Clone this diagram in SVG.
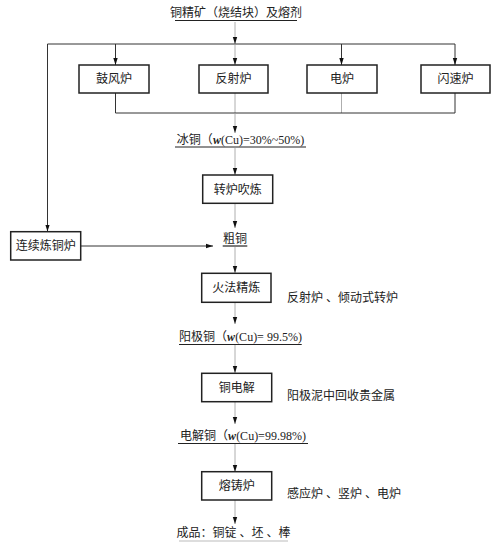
<svg xmlns="http://www.w3.org/2000/svg" width="500" height="543" viewBox="0 0 500 543">
<style>
  text { font-family: "Liberation Serif", "Noto Sans CJK SC", serif; font-size: 12px; fill: #222; }
  .c { text-anchor: middle; }
  .box { fill: #fff; stroke: #222; stroke-width: 1.5; }
  .dk { stroke: #333; stroke-width: 1; fill: none; }
  .gr { stroke: #999; stroke-width: 0.8; fill: none; }
  .ul { stroke: #222; stroke-width: 1.2; }
</style>
<defs>
  <marker id="ah" markerUnits="userSpaceOnUse" markerWidth="8" markerHeight="8" refX="7" refY="4" orient="auto">
    <path d="M0,1.8 L7,4 L0,6.2 Z" fill="#111"/>
  </marker>
</defs>
<rect width="500" height="543" fill="#fff"/>

<g id="connectors">
  <line class="gr" x1="235" y1="22" x2="235" y2="44" marker-end="url(#ah)"/>
  <line class="dk" x1="47.5" y1="44" x2="455" y2="44"/>
  <line class="dk" x1="115.5" y1="44" x2="115.5" y2="65" marker-end="url(#ah)"/>
  <line class="gr" x1="235" y1="44" x2="235" y2="65" marker-end="url(#ah)"/>
  <line class="dk" x1="341.5" y1="44" x2="341.5" y2="65" marker-end="url(#ah)"/>
  <line class="dk" x1="455" y1="44" x2="455" y2="65" marker-end="url(#ah)"/>
  <line class="dk" x1="115.5" y1="93" x2="115.5" y2="113"/>
  <line class="gr" x1="235" y1="93" x2="235" y2="113"/>
  <line class="gr" x1="341.5" y1="93" x2="341.5" y2="113"/>
  <line class="dk" x1="455" y1="93" x2="455" y2="113"/>
  <line class="dk" x1="115.5" y1="113" x2="455" y2="113"/>
  <line class="gr" x1="235" y1="113" x2="235" y2="133" marker-end="url(#ah)"/>
  <line class="dk" x1="47.5" y1="44" x2="47.5" y2="231.5" marker-end="url(#ah)"/>
  <line class="gr" x1="235" y1="148" x2="235" y2="175" marker-end="url(#ah)"/>
  <line class="gr" x1="235" y1="203" x2="235" y2="228" marker-end="url(#ah)"/>
  <line class="dk" x1="80.7" y1="246" x2="213" y2="246" marker-end="url(#ah)"/>
  <line class="gr" x1="235" y1="247" x2="235" y2="273" marker-end="url(#ah)"/>
  <line class="gr" x1="235" y1="302" x2="235" y2="324" marker-end="url(#ah)"/>
  <line class="gr" x1="235" y1="345" x2="235" y2="373" marker-end="url(#ah)"/>
  <line class="gr" x1="235" y1="402" x2="235" y2="424" marker-end="url(#ah)"/>
  <line class="gr" x1="235" y1="444" x2="235" y2="472" marker-end="url(#ah)"/>
  <line class="gr" x1="235" y1="500" x2="235" y2="524" marker-end="url(#ah)"/>
</g>

<g id="n-feed">
  <text class="c" x="236" y="17">铜精矿（烧结块）及熔剂</text>
  <line class="ul" x1="175" y1="20.5" x2="297" y2="20.5"/>
</g>
<g id="n-blast"><rect class="box" x="79" y="65" width="70" height="28"/><text class="c" x="114" y="83">鼓风炉</text></g>
<g id="n-reverb"><rect class="box" x="199" y="65" width="69" height="28"/><text class="c" x="233.5" y="83">反射炉</text></g>
<g id="n-electric"><rect class="box" x="307" y="65" width="70" height="28"/><text class="c" x="342" y="83">电炉</text></g>
<g id="n-flash"><rect class="box" x="421" y="65" width="69" height="28"/><text class="c" x="455.5" y="83">闪速炉</text></g>

<g id="n-matte">
  <text class="c" x="240.5" y="144">冰铜（<tspan font-style="italic" font-weight="bold">w</tspan>(Cu)=30%~50%)</text>
  <line class="ul" x1="175" y1="147" x2="306" y2="147"/>
</g>
<g id="n-converter"><rect class="box" x="202.7" y="175" width="70" height="28.3"/><text class="c" x="237.7" y="193.5">转炉吹炼</text></g>
<g id="n-continuous"><rect class="box" x="10.7" y="231.7" width="70" height="28.3"/><text class="c" x="45.7" y="250">连续炼铜炉</text></g>
<g id="n-blister">
  <text class="c" x="235" y="243">粗铜</text>
  <line class="ul" x1="222.7" y1="246" x2="247.3" y2="246"/>
</g>
<g id="n-fire"><rect class="box" x="201.7" y="273.3" width="69.3" height="29"/><text class="c" x="236.3" y="292">火法精炼</text></g>
<text x="287" y="302">反射炉 、倾动式转炉</text>
<g id="n-anode">
  <text class="c" x="240.5" y="341">阳极铜（<tspan font-style="italic" font-weight="bold">w</tspan>(Cu)= 99.5%)</text>
  <line class="ul" x1="179" y1="344.5" x2="301.7" y2="344.5"/>
</g>
<g id="n-electrolysis"><rect class="box" x="201.7" y="373.3" width="70" height="28.4"/><text class="c" x="236.7" y="392">铜电解</text></g>
<text x="287" y="400">阳极泥中回收贵金属</text>
<g id="n-cathode">
  <text class="c" x="243" y="440">电解铜（<tspan font-style="italic" font-weight="bold">w</tspan>(Cu)=99.98%)</text>
  <line class="ul" x1="178" y1="443.5" x2="308" y2="443.5"/>
</g>
<g id="n-casting"><rect class="box" x="201.7" y="471.7" width="70" height="28.3"/><text class="c" x="236.7" y="490">熔铸炉</text></g>
<text x="287" y="498">感应炉 、竖炉 、电炉</text>
<g id="n-product">
  <text class="c" x="233.5" y="537">成品：铜锭 、坯 、棒</text>
  <line x1="179" y1="541" x2="288" y2="541" stroke="#bbb" stroke-width="1.2"/>
</g>
</svg>
